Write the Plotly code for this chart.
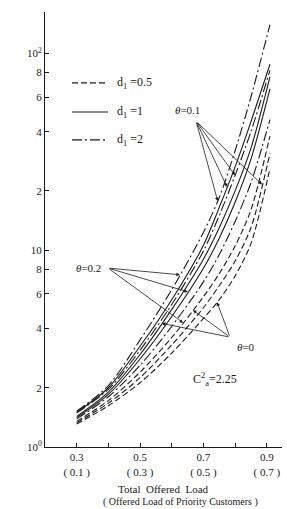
import plotly.graph_objects as go
import numpy as np

# Total offered load (x) and mean waiting time (y) for nine curves
load = [0.3, 0.4, 0.5, 0.6, 0.7, 0.75, 0.8, 0.85, 0.91]

c1 = [1.52, 2.05, 3.50, 6.30, 12.3, 18.5, 32.0, 60.0, 140]   # dash-dot
c2 = [1.50, 2.00, 3.25, 5.60, 10.6, 16.5, 26.5, 45.0, 88]    # solid
c3 = [1.49, 1.96, 3.10, 5.30, 9.90, 15.0, 24.0, 40.0, 82]    # dash-dot
c4 = [1.43, 1.90, 2.95, 5.00, 9.00, 13.0, 20.0, 33.0, 76]    # solid
c5 = [1.41, 1.85, 2.80, 4.60, 8.10, 11.5, 17.5, 29.0, 66]    # solid
c6 = [1.39, 1.80, 2.60, 4.10, 6.90, 9.50, 14.0, 22.0, 46]    # dash-dot
c7 = [1.35, 1.72, 2.40, 3.60, 5.80, 7.60, 10.5, 16.0, 38]    # dashed
c8 = [1.33, 1.67, 2.25, 3.30, 5.10, 6.60, 8.80, 13.0, 31]    # dashed
c9 = [1.31, 1.62, 2.12, 3.00, 4.50, 5.60, 7.40, 10.8, 26]    # dashed

curves = [c1, c2, c3, c4, c5, c6, c7, c8, c9]
styles = ["dd", "solid", "dd", "solid", "solid", "dd", "dash", "dash", "dash"]

x_ticks = [0.3, 0.4, 0.5, 0.6, 0.7, 0.8, 0.9]
x_ticktext = ["0.3<br>( 0.1 )", "", "0.5<br>( 0.3 )", "", "0.7<br>( 0.5 )", "", "0.9<br>( 0.7 )"]
y_ticks = [1, 2, 4, 6, 8, 10, 20, 40, 60, 80, 100]
y_ticktext = ["10<sup>0</sup>", "2", "4", "6", "8", "10", "2", "4", "6", "8", "10<sup>2</sup>"]

legend_labels = ["d<sub>1</sub> =0.5", "d<sub>1</sub> =1", "d<sub>1</sub> =2"]
legend_styles = ["dash", "solid", "dd"]

dash_map = {"dd": "10px,3px,2px,3px", "solid": "solid", "dash": "6px,3px"}
INK = "#1a1a1a"
FONT = "Liberation Serif"

fig = go.Figure()
for ys, st in zip(curves, styles):
    fig.add_trace(go.Scatter(x=load, y=ys, mode="lines",
                             line=dict(color=INK, width=1.1, dash=dash_map[st], shape="spline", smoothing=0.8),
                             showlegend=False, hoverinfo="skip"))

# manual legend (top-left)
leg_y = [0.837, 0.770, 0.706]
for lab, st, yy in zip(legend_labels, legend_styles, leg_y):
    fig.add_shape(type="line", xref="paper", yref="paper", x0=0.114, x1=0.266, y0=yy, y1=yy,
                  line=dict(color=INK, width=1.1, dash=dash_map[st]))
    fig.add_annotation(xref="paper", yref="paper", x=0.295, y=yy, text=lab, showarrow=False,
                       xanchor="left", yanchor="middle", font=dict(size=12, family=FONT, color=INK))

def on_curve(idx, xv):
    return float(np.interp(xv, load, np.log10(curves[idx])))

# arrow groups: (label, label pos (x, log y), tail (x, log y), tips [(curve index, x)])
groups = [
    ("<i>θ</i>=0.1", (0.651, 1.711), (0.677, 1.655), [(0, 0.745), (1, 0.775), (2, 0.80), (7, 0.885)]),
    ("<i>θ</i>=0.2", (0.336, 0.909), (0.399, 0.909), [(0, 0.626), (4, 0.651), (6, 0.636)]),
    ("<i>θ</i>=0", (0.835, 0.508), (0.784, 0.558), [(3, 0.569), (6, 0.667), (8, 0.743)]),
]
for lab, lpos, tail, tips in groups:
    fig.add_annotation(x=lpos[0], y=lpos[1], xref="x", yref="y", text=lab, showarrow=False,
                       font=dict(size=11, family=FONT, color=INK))
    for ci, xv in tips:
        fig.add_annotation(x=xv, y=on_curve(ci, xv), xref="x", yref="y", text="",
                           showarrow=True, ax=tail[0], ay=tail[1], axref="x", ayref="y",
                           arrowhead=2, arrowsize=0.9, arrowwidth=0.8, arrowcolor=INK, standoff=0)

fig.add_annotation(x=0.737, y=0.345, xref="x", yref="y", text="C<sup>2</sup><sub>a</sub>=2.25",
                   showarrow=False, font=dict(size=12, family=FONT, color=INK))

# axis titles (bottom)
fig.add_annotation(xref="paper", yref="paper", x=0.5, y=-0.097, text="Total  Offered  Load",
                   showarrow=False, yanchor="middle", font=dict(size=11, family=FONT, color=INK))
fig.add_annotation(xref="paper", yref="paper", x=0.57, y=-0.126, text="( Offered Load of Priority Customers )",
                   showarrow=False, yanchor="middle", font=dict(size=10, family=FONT, color=INK))

fig.update_layout(
    width=287, height=509,
    margin=dict(l=45, r=5, t=12, b=62),
    paper_bgcolor="white", plot_bgcolor="white",
    font=dict(family=FONT, size=11, color=INK),
    showlegend=False,
    xaxis=dict(range=[0.2, 0.948], tickvals=x_ticks, ticktext=x_ticktext, ticks="inside", ticklen=4,
               tickcolor=INK, showline=True, linecolor=INK, linewidth=1, showgrid=False, zeroline=False,
               tickfont=dict(size=11, family=FONT)),
    yaxis=dict(type="log", range=[0, 2.21], tickvals=y_ticks, ticktext=y_ticktext, ticks="inside", ticklen=4,
               tickcolor=INK, showline=True, linecolor=INK, linewidth=1, showgrid=False, zeroline=False,
               tickfont=dict(size=11, family=FONT)),
)

fig.write_html("out.html")
